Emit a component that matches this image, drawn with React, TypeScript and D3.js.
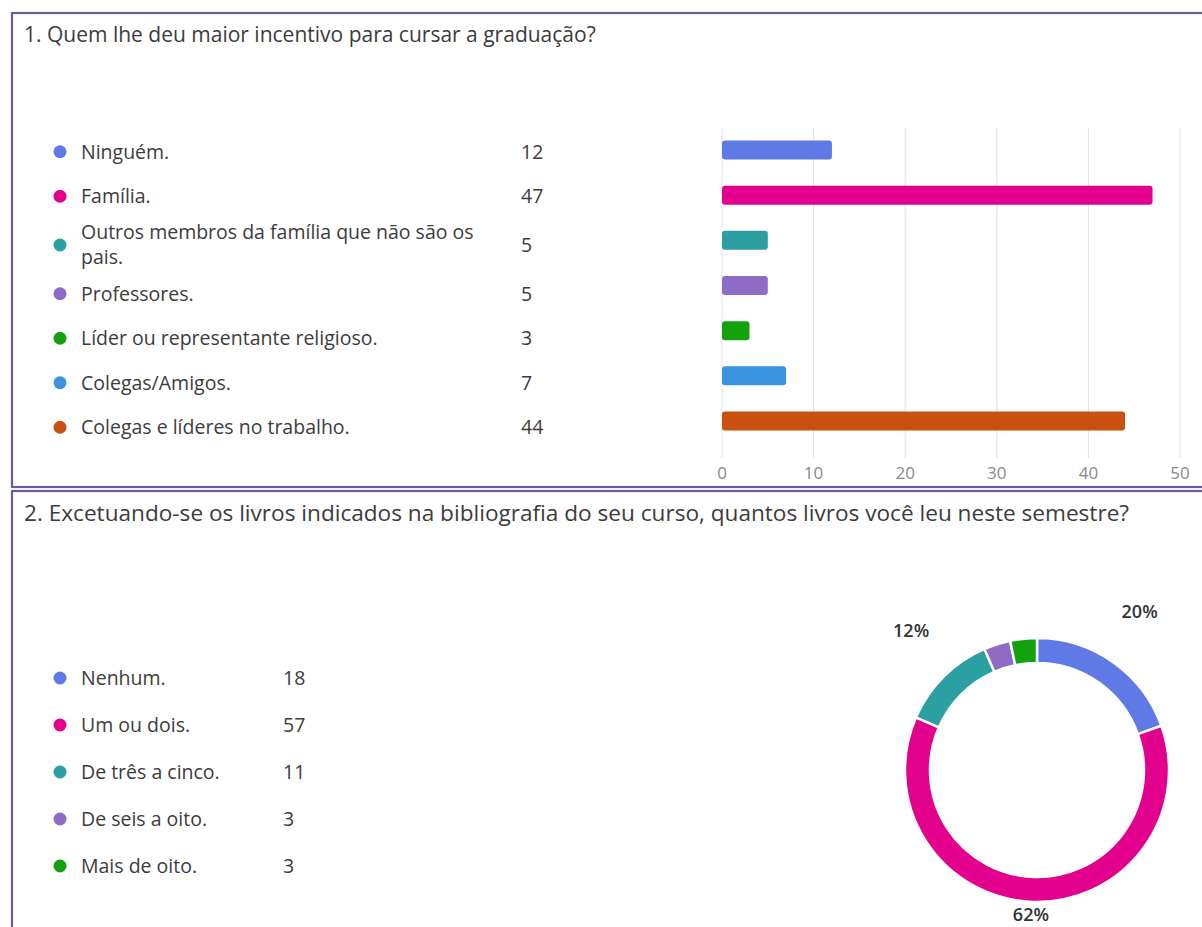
import React from "react";
import * as d3 from "d3";

const title1 = "1. Quem lhe deu maior incentivo para cursar a graduação?";
const title2 =
  "2. Excetuando-se os livros indicados na bibliografia do seu curso, quantos livros você leu neste semestre?";

const incentiveLabels = [
  "Ninguém.",
  "Família.",
  "Outros membros da família que não são os pais.",
  "Professores.",
  "Líder ou representante religioso.",
  "Colegas/Amigos.",
  "Colegas e líderes no trabalho.",
];
const incentiveValues = [12, 47, 5, 5, 3, 7, 44];
const incentiveColors = ["#5f7ae6", "#e3008c", "#2c9fa2", "#8e6cc6", "#13a10e", "#3a93df", "#ca5010"];
const xTicks = [0, 10, 20, 30, 40, 50];

const bookLabels = ["Nenhum.", "Um ou dois.", "De três a cinco.", "De seis a oito.", "Mais de oito."];
const bookValues = [18, 57, 11, 3, 3];
const bookColors = ["#5f7ae6", "#e3008c", "#2c9fa2", "#8e6cc6", "#13a10e"];

const FONT = "'Open Sans', 'Noto Sans', sans-serif";
const TEXT = "#3c3c3c";
const BORDER = "#6d5a9c";

function wrap(text: string, width: number, font: string): string[] {
  const canvas = document.createElement("canvas");
  const ctx = canvas.getContext("2d")!;
  ctx.font = font;
  const words = text.split(" ");
  const lines: string[] = [];
  let cur = "";
  for (const w of words) {
    const t = cur ? cur + " " + w : w;
    if (ctx.measureText(t).width > width && cur) {
      lines.push(cur);
      cur = w;
    } else cur = t;
  }
  if (cur) lines.push(cur);
  return lines;
}

export default function App() {
  // ---------- Panel 1 ----------
  const x = d3.scaleLinear().domain([0, 50]).range([722, 1180]);
  const yBar = d3.scalePoint<string>().domain(incentiveLabels).range([150, 421]);
  const barH = 19;

  const legendSize = 19.5;
  const legendFont = `${legendSize}px 'Open Sans'`;
  const wrapped = incentiveLabels.map((l) => wrap(l, 395, legendFont));
  const lineH = 25;
  const rowHeights = wrapped.map((ls) => Math.max(44.5, ls.length * lineH + 3));
  let acc = 129.5;
  const legendCenters = rowHeights.map((h) => {
    const c = acc + h / 2;
    acc += h;
    return c;
  });

  // ---------- Panel 2 ----------
  const yLeg2 = d3.scalePoint<string>().domain(bookLabels).range([678, 866]);
  const total = d3.sum(bookValues);
  const pie = d3
    .pie<number>()
    .sort(null)
    .value((d) => d)
    .startAngle(0)
    .endAngle(2 * Math.PI);
  const arcs = pie(bookValues);
  const cx = 1037;
  const cy = 770;
  const outerR = 132;
  const innerR = 107;
  const arcGen = d3.arc<d3.PieArcDatum<number>>().innerRadius(innerR).outerRadius(outerR);

  return (
    <svg
      width={1202}
      height={927}
      style={{ position: "absolute", left: 0, top: 0, background: "#fff" }}
      fontFamily={FONT}
    >
      <rect x={0} y={0} width={1202} height={927} fill="#fff" />
      {/* Panel borders */}
      <rect x={12} y={13} width={1210} height={474} fill="none" stroke={BORDER} strokeWidth={2.2} />
      <rect x={12} y={491} width={1210} height={460} fill="none" stroke={BORDER} strokeWidth={2.2} />

      {/* Panel 1 title */}
      <text x={24} y={42} fontSize={21} fill={TEXT}>
        {title1}
      </text>

      {/* Panel 1 legend */}
      {incentiveLabels.map((l, i) => {
        const c = legendCenters[i];
        const ls = wrapped[i];
        const top = c - ((ls.length - 1) * lineH) / 2;
        return (
          <g key={l}>
            <circle cx={60} cy={c} r={6.5} fill={incentiveColors[i]} />
            <text fontSize={legendSize} fill={TEXT}>
              {ls.map((line, j) => (
                <tspan key={j} x={81} y={top + j * lineH} dy="0.35em">
                  {line}
                </tspan>
              ))}
            </text>
            <text x={521} y={c} dy="0.35em" fontSize={legendSize} fill={TEXT}>
              {incentiveValues[i]}
            </text>
          </g>
        );
      })}

      {/* Panel 1 grid & axis */}
      {xTicks.map((t) => (
        <g key={t}>
          <line x1={x(t)} x2={x(t)} y1={128} y2={458} stroke="#e2e2e2" strokeWidth={1} />
          <text x={x(t)} y={479} textAnchor="middle" fontSize={17} fill="#8a8a8a">
            {t}
          </text>
        </g>
      ))}

      {/* Panel 1 bars */}
      {incentiveLabels.map((l, i) => (
        <rect
          key={l}
          x={x(0)}
          y={(yBar(l) as number) - barH / 2}
          width={x(incentiveValues[i]) - x(0)}
          height={barH}
          rx={3}
          fill={incentiveColors[i]}
        />
      ))}

      {/* Panel 2 title */}
      <text x={24} y={521} fontSize={22.6} fill={TEXT}>
        {title2}
      </text>

      {/* Panel 2 legend */}
      {bookLabels.map((l, i) => (
        <g key={l}>
          <circle cx={60} cy={yLeg2(l)} r={6.5} fill={bookColors[i]} />
          <text x={81} y={yLeg2(l)} dy="0.35em" fontSize={legendSize} fill={TEXT}>
            {l}
          </text>
          <text x={283} y={yLeg2(l)} dy="0.35em" fontSize={legendSize} fill={TEXT}>
            {bookValues[i]}
          </text>
        </g>
      ))}

      {/* Panel 2 donut */}
      <g transform={`translate(${cx},${cy})`}>
        {arcs.map((a, i) => (
          <path key={i} d={arcGen(a) || ""} fill={bookColors[i]} stroke="#fff" strokeWidth={2.5} />
        ))}
      </g>
      {arcs.map((a, i) => {
        const pct = Math.round((a.value / total) * 100);
        if (pct < 5) return null;
        const mid = (a.startAngle + a.endAngle) / 2;
        const r = 178;
        const lx = cx + r * Math.sin(mid);
        const ly = Math.min(915, cy - r * Math.cos(mid) - 13);
        return (
          <text
            key={i}
            x={lx}
            y={ly}
            dy="0.35em"
            textAnchor="middle"
            fontSize={18}
            fontWeight={600}
            fill="#333"
          >
            {pct}%
          </text>
        );
      })}
    </svg>
  );
}
